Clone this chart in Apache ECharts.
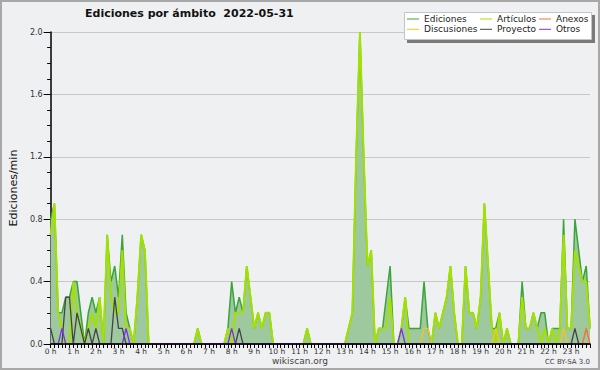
<!DOCTYPE html>
<html><head><meta charset="utf-8">
<script src="https://cdn.jsdelivr.net/npm/echarts@6/dist/echarts.min.js"></script>
<style>html,body{margin:0;padding:0;background:#eff0f2}#c{width:600px;height:370px}</style>
</head><body><div id="c"></div>
<script>
const hourLabels = ['0 h','1 h','2 h','3 h','4 h','5 h','6 h','7 h','8 h','9 h','10 h','11 h','12 h','13 h','14 h','15 h','16 h','17 h','18 h','19 h','20 h','21 h','22 h','23 h'];
const yTickLabels = ['0.0','0.4','0.8','1.2','1.6','2.0'];
const seriesNames = ['Ediciones','Artículos','Anexos','Discusiones','Proyecto','Otros'];

const ediciones = [
0.8,0.9,0.2,0.2,0.3,0.3,0.4,0.4,0.2,0,0.2,0.3,
0.2,0.3,0,0.7,0.4,0.5,0.3,0.7,0.2,0.1,0,0.3,
0.7,0.6,0,0,0,0,0,0,0,0,0,0,
0,0,0,0.1,0,0,0,0,0,0,0,0.1,
0.4,0.2,0.3,0.2,0.5,0.3,0.1,0.2,0.1,0.2,0.2,0,
0,0,0,0,0,0,0,0,0.1,0,0,0,
0,0,0,0,0,0,0,0.1,0.2,1.2,2.0,1.2,
0.5,0.6,0,0.1,0.1,0.3,0.5,0,0,0.1,0.3,0.1,
0.1,0.1,0.1,0.4,0.1,0,0.2,0.1,0.2,0.3,0.5,0.2,
0,0,0.5,0.2,0.2,0.1,0.3,0.9,0.5,0.1,0.1,0.2,
0,0.1,0,0,0,0.4,0.1,0.1,0.2,0.1,0.2,0.2,
0,0.1,0.1,0.1,0.8,0.1,0.1,0.8,0.6,0.4,0.5,0.1];

const articulos = [
0.7,0.9,0.2,0.1,0,0,0.4,0.2,0.1,0,0.1,0.2,
0.1,0.3,0,0.7,0.3,0.2,0.2,0.6,0.1,0.1,0,0.3,
0.7,0.6,0,0,0,0,0,0,0,0,0,0,
0,0,0,0.1,0,0,0,0,0,0,0,0.1,
0,0.2,0.2,0.2,0.5,0.3,0.1,0.2,0.1,0.2,0.2,0,
0,0,0,0,0,0,0,0,0.1,0,0,0,
0,0,0,0,0,0,0,0.1,0.2,1.2,2.0,1.2,
0.5,0.6,0,0.1,0.1,0.1,0.3,0,0,0.1,0.3,0,
0,0,0,0,0,0,0.2,0.1,0.2,0.3,0.5,0.2,
0,0,0.5,0.2,0.2,0.1,0.3,0.9,0.5,0.1,0,0.2,
0,0.1,0,0,0,0.3,0.1,0.1,0.2,0.1,0,0.1,
0,0.1,0,0.1,0.7,0.1,0.1,0.6,0.5,0.4,0.4,0.1];

const anexos = [
0,0,0,0,0,0,0,0,0,0,0,0,
0,0,0,0,0,0,0,0,0,0,0,0,
0,0,0,0,0,0,0,0,0,0,0,0,
0,0,0,0,0,0,0,0,0,0,0,0,
0,0,0,0,0,0,0,0,0,0,0,0,
0,0,0,0,0,0,0,0,0,0,0,0,
0,0,0,0,0,0,0,0,0,0,0,0,
0,0,0,0,0,0,0,0,0,0,0,0,
0,0,0,0,0,0,0,0,0,0,0,0,
0,0,0,0,0,0,0,0,0,0,0,0,
0,0,0,0,0,0,0,0,0,0,0,0,
0,0,0,0,0,0,0,0,0,0,0.1,0];

const discusiones = [
0,0,0,0,0,0,0,0,0,0,0,0,
0,0,0,0,0,0,0,0,0,0,0,0,
0,0,0,0,0,0,0,0,0,0,0,0,
0,0,0,0,0,0,0,0,0,0,0,0,
0,0,0,0,0,0,0,0,0,0,0,0,
0,0,0,0,0,0,0,0,0,0,0,0,
0,0,0,0,0,0,0,0,0,0,0,0,
0,0,0,0,0,0,0,0,0,0,0,0,
0,0,0,0.1,0.1,0,0,0,0,0,0,0,
0,0,0,0,0,0,0,0,0,0,0.1,0,
0,0,0,0,0,0,0,0,0,0,0,0,
0,0,0,0,0.1,0,0,0,0,0,0,0];

const proyecto = [
0.1,0,0,0,0.3,0.3,0,0.2,0.1,0,0.1,0,
0.1,0,0,0,0,0.3,0.1,0.1,0,0,0,0,
0,0,0,0,0,0,0,0,0,0,0,0,
0,0,0,0,0,0,0,0,0,0,0,0,
0,0,0.1,0,0,0,0,0,0,0,0,0,
0,0,0,0,0,0,0,0,0,0,0,0,
0,0,0,0,0,0,0,0,0,0,0,0,
0,0,0,0,0,0,0,0,0,0,0,0,
0,0,0,0,0,0,0,0,0,0,0,0,
0,0,0,0,0,0,0,0,0,0,0,0,
0,0,0,0,0,0,0,0,0,0,0,0,
0,0,0,0,0,0,0,0.1,0,0,0,0];

const otros = [
0,0,0,0.1,0,0,0,0,0,0,0,0,
0,0,0,0,0,0,0,0,0.1,0,0,0,
0,0,0,0,0,0,0,0,0,0,0,0,
0,0,0,0,0,0,0,0,0,0,0,0,
0.1,0,0,0,0,0,0,0,0,0,0,0,
0,0,0,0,0,0,0,0,0,0,0,0,
0,0,0,0,0,0,0,0,0,0,0,0,
0,0,0,0,0,0,0,0,0,0.1,0,0,
0,0,0,0,0,0,0,0,0,0,0,0,
0,0,0,0,0,0,0,0,0,0,0,0,
0,0,0,0,0,0,0,0,0,0,0,0,
0,0,0,0,0,0,0,0,0,0,0,0];

const minutes = ediciones.map((_, i) => i * 10);
const F = 'DejaVu Sans';
const pts = arr => arr.map((v, i) => [minutes[i], v]);

const colors = {
  Ediciones: '#3aa53a', 'Artículos': '#a4e000', Anexos: '#ff6a35',
  Discusiones: '#f4c61c', Proyecto: '#444444', Otros: '#7a30ee'
};
function lineSeries(name, arr, width, z, extra) {
  return Object.assign({
    name, type: 'line', data: pts(arr), symbol: 'none', z,
    lineStyle: { color: colors[name], width },
    itemStyle: { color: colors[name] },
    emphasis: { disabled: true }
  }, extra || {});
}
function legendCol(names, left) {
  return {
    orient: 'vertical', left, top: 14, z: 10, padding: 0, itemGap: 0.3,
    itemWidth: 12, itemHeight: 1, icon: 'rect', selectedMode: false,
    data: names.map(n => ({ name: n, itemStyle: { color: colors[n] } })),
    textStyle: { fontFamily: F, fontSize: 9, lineHeight: 10, color: '#222' }
  };
}

const chart = echarts.init(document.getElementById('c'), null, { renderer: 'svg', width: 600, height: 370 });
chart.setOption({
  backgroundColor: '#eff0f2',
  animation: false,
  title: [
    { text: 'Ediciones por ámbito  2022-05-31', left: 85, top: 8, padding: 0,
      textStyle: { fontFamily: F, fontSize: 11, fontWeight: 'bold', color: '#111' } },
    { text: 'wikiscan.org', left: 'center', top: 356, padding: 0,
      textStyle: { fontFamily: F, fontSize: 9, fontWeight: 'normal', color: '#444' } },
    { text: 'CC BY-SA 3.0', right: 10, top: 358, padding: 0,
      textStyle: { fontFamily: F, fontSize: 7, fontWeight: 'normal', color: '#444' } }
  ],
  legend: [
    legendCol([seriesNames[0], seriesNames[3]], 407),
    legendCol([seriesNames[1], seriesNames[4]], 480),
    legendCol([seriesNames[2], seriesNames[5]], 539)
  ],
  graphic: [
    { type: 'rect', z: 5, silent: true, shape: { x: 407, y: 15, width: 188, height: 28 }, style: { fill: '#7a7a7a' } },
    { type: 'rect', z: 6, silent: true, shape: { x: 404.5, y: 12.5, width: 187, height: 27 }, style: { fill: '#ffffff', stroke: '#c4c4c4', lineWidth: 1 } },
    { type: 'rect', z: 100, silent: true, shape: { x: 1, y: 1, width: 598, height: 368 }, style: { fill: 'none', stroke: '#a8a8a8', lineWidth: 2 } }
  ],
  grid: { left: 46, right: 10, top: 32, bottom: 26 },
  xAxis: {
    type: 'value', min: 0, max: 1430, interval: 60, z: 10,
    axisLine: { lineStyle: { color: '#000', width: 1.5 } },
    axisTick: { length: 4, lineStyle: { color: '#000' } },
    minorTick: { show: true, splitNumber: 6, length: 4, lineStyle: { color: '#000' } },
    splitLine: { show: false },
    axisLabel: { formatter: v => (v % 60 === 0 ? hourLabels[v / 60] : ''), fontFamily: F, fontSize: 7.5, color: '#333', margin: 3 }
  },
  yAxis: {
    type: 'value', min: 0, max: 2, interval: 0.4,
    name: 'Ediciones/min', nameLocation: 'middle', nameGap: 28,
    nameTextStyle: { fontFamily: F, fontSize: 11, color: '#111' },
    axisLine: { show: true, lineStyle: { color: '#000', width: 1.5 } },
    axisTick: { show: true, length: 7, lineStyle: { color: '#000' } },
    minorTick: { show: true, splitNumber: 4, length: 3.5, lineStyle: { color: '#000' } },
    splitLine: { lineStyle: { color: '#c8c8c8' } },
    axisLabel: { formatter: v => yTickLabels[Math.round(v / 0.4)], fontFamily: F, fontSize: 8, color: '#333', margin: 8 }
  },
  series: [
    lineSeries('Ediciones', ediciones, 1.5, 2, { areaStyle: { color: '#9ec89e', opacity: 1 } }),
    lineSeries('Artículos', articulos, 2, 3),
    lineSeries('Anexos', anexos, 1.3, 4),
    lineSeries('Discusiones', discusiones, 1.3, 4),
    lineSeries('Proyecto', proyecto, 1.3, 4),
    lineSeries('Otros', otros, 1.3, 4)
  ]
});
</script></body></html>
